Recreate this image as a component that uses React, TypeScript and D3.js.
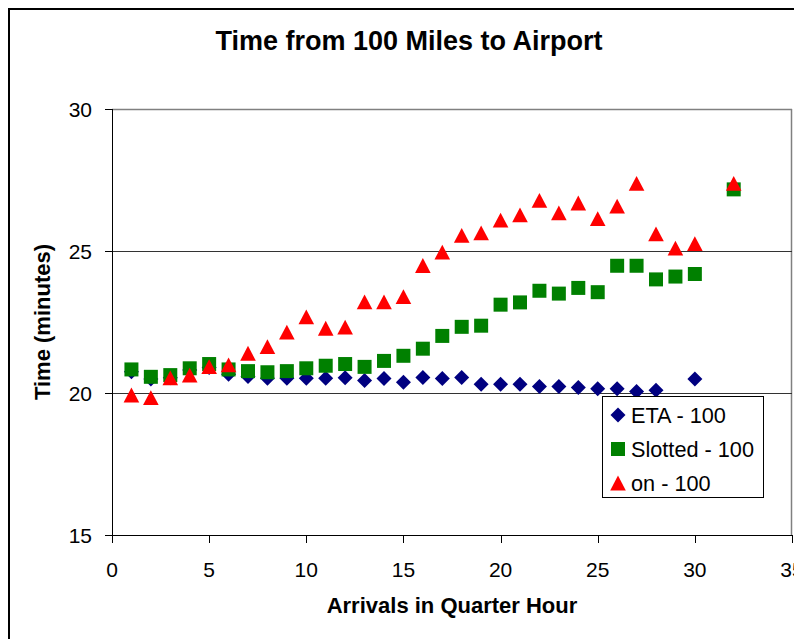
import React from "react";
import * as d3 from "d3";

const TITLE = "Time from 100 Miles to Airport";
const X_TITLE = "Arrivals in Quarter Hour";
const Y_TITLE = "Time (minutes)";
const X_TICKS = [0, 5, 10, 15, 20, 25, 30, 35];
const Y_TICKS = [15, 20, 25, 30];
const GRID_Y = [20, 25];

const etaX = [1, 2, 3, 4, 5, 6, 7, 8, 9, 10, 11, 12, 13, 14, 15, 16, 17, 18, 19, 20, 21, 22, 23, 24, 25, 26, 27, 28, 30];
const etaY = [20.75, 20.49, 20.54, 20.81, 20.9, 20.66, 20.58, 20.52, 20.52, 20.52, 20.52, 20.54, 20.44, 20.51, 20.38, 20.55, 20.51, 20.55, 20.31, 20.31, 20.31, 20.23, 20.23, 20.19, 20.15, 20.15, 20.05, 20.1, 20.49];

const slotX = [1, 2, 3, 4, 5, 6, 7, 8, 9, 10, 11, 12, 13, 14, 15, 16, 17, 18, 19, 20, 21, 22, 23, 24, 25, 26, 27, 28, 29, 30, 32];
const slotY = [20.83, 20.57, 20.63, 20.87, 21.02, 20.83, 20.77, 20.73, 20.77, 20.87, 20.96, 21.02, 20.92, 21.13, 21.31, 21.56, 22.01, 22.33, 22.37, 23.11, 23.19, 23.6, 23.5, 23.7, 23.55, 24.48, 24.48, 24.0, 24.1, 24.19, 27.17];

const onX = [1, 2, 3, 4, 5, 6, 7, 8, 9, 10, 11, 12, 13, 14, 15, 16, 17, 18, 19, 20, 21, 22, 23, 24, 25, 26, 27, 28, 29, 30, 32];
const onY = [19.93, 19.84, 20.53, 20.63, 20.93, 20.99, 21.4, 21.63, 22.14, 22.68, 22.28, 22.32, 23.21, 23.21, 23.39, 24.49, 24.96, 25.55, 25.64, 26.09, 26.27, 26.78, 26.34, 26.69, 26.14, 26.58, 27.38, 25.6, 25.1, 25.26, 27.38];

const SERIES_NAMES = ["ETA - 100", "Slotted - 100", "on - 100"];
const SERIES_COLORS = ["#000080", "#008000", "#FF0000"];
const SERIES_SHAPES = ["diamond", "square", "triangle"];

const W = 794;
const H = 631;
const FONT = "'Liberation Sans', Arial, Helvetica, sans-serif";

function markerPath(shape: string, cx: number, cy: number): string {
  const p = d3.path();
  if (shape === "diamond") {
    const r = 7.5;
    p.moveTo(cx, cy - r);
    p.lineTo(cx + r, cy);
    p.lineTo(cx, cy + r);
    p.lineTo(cx - r, cy);
    p.closePath();
  } else if (shape === "square") {
    const r = 7;
    p.rect(cx - r, cy - r, 2 * r, 2 * r);
  } else {
    const hw = 7.8;
    const hh = 7.4;
    p.moveTo(cx, cy - hh);
    p.lineTo(cx + hw, cy + hh);
    p.lineTo(cx - hw, cy + hh);
    p.closePath();
  }
  return p.toString();
}

export default function App() {
  const left = 104;
  const right = 784;
  const top = 101;
  const bottom = 527;

  const x = d3.scaleLinear().domain([0, 35]).range([left, right]);
  const y = d3.scaleLinear().domain([15, 30]).range([bottom, top]);

  const series = [
    { xs: etaX, ys: etaY },
    { xs: slotX, ys: slotY },
    { xs: onX, ys: onY },
  ];

  const legendX = 594;
  const legendY = 388;
  const legendW = 161;
  const legendH = 101;
  const rowH = 34;

  return (
    <svg width={W} height={H} style={{ display: "block", background: "#fff" }} fontFamily={FONT}>
      <rect x={0} y={0} width={W} height={H} fill="#fff" />
      <rect x={1} y={1} width={W + 20} height={H + 20} fill="none" stroke="#000" strokeWidth={2} />

      <text x={401} y={42} textAnchor="middle" fontSize={27} fontWeight="bold" fill="#000">
        {TITLE}
      </text>

      {/* plot border top/right */}
      <line x1={left} x2={right} y1={top + 0.5} y2={top + 0.5} stroke="#808080" strokeWidth={1.5} />
      <line x1={right - 0.5} x2={right - 0.5} y1={top} y2={bottom} stroke="#808080" strokeWidth={1.5} />

      {GRID_Y.map((v) => (
        <line key={v} x1={left} x2={right} y1={Math.round(y(v)) + 0.5} y2={Math.round(y(v)) + 0.5} stroke="#333" strokeWidth={1} />
      ))}

      {/* axes */}
      <line x1={left + 0.5} x2={left + 0.5} y1={top} y2={bottom + 1} stroke="#000" strokeWidth={1} />
      <line x1={left} x2={right} y1={bottom + 0.5} y2={bottom + 0.5} stroke="#000" strokeWidth={1} />

      {Y_TICKS.map((v) => (
        <g key={v}>
          <line x1={left - 7} x2={left} y1={Math.round(y(v)) + 0.5} y2={Math.round(y(v)) + 0.5} stroke="#000" />
          <text x={left - 20} y={y(v) + 7.5} textAnchor="end" fontSize={21} fill="#000">
            {v}
          </text>
        </g>
      ))}

      {X_TICKS.map((v) => (
        <g key={v}>
          <line x1={Math.round(x(v)) + 0.5} x2={Math.round(x(v)) + 0.5} y1={bottom} y2={bottom + 8} stroke="#000" />
          <text x={x(v)} y={569} textAnchor="middle" fontSize={21} fill="#000">
            {v}
          </text>
        </g>
      ))}

      <text x={(left + right) / 2} y={605} textAnchor="middle" fontSize={22} fontWeight="bold" fill="#000">
        {X_TITLE}
      </text>
      <text
        transform={`translate(42, ${(top + bottom) / 2}) rotate(-90)`}
        textAnchor="middle"
        fontSize={22}
        fontWeight="bold"
        fill="#000"
      >
        {Y_TITLE}
      </text>

      {series.map((s, si) => (
        <g key={si} fill={SERIES_COLORS[si]}>
          {s.xs.map((xv, i) => (
            <path key={i} d={markerPath(SERIES_SHAPES[si], x(xv), y(s.ys[i]))} />
          ))}
        </g>
      ))}

      <rect x={legendX + 0.5} y={legendY + 0.5} width={legendW} height={legendH} fill="#fff" stroke="#000" strokeWidth={1} />
      {SERIES_NAMES.map((name, i) => {
        const cy = legendY + 19 + i * rowH;
        return (
          <g key={name}>
            <path d={markerPath(SERIES_SHAPES[i], legendX + 16, cy)} fill={SERIES_COLORS[i]} />
            <text x={legendX + 29} y={cy + 7.5} fontSize={21.7} fill="#000">
              {name}
            </text>
          </g>
        );
      })}
    </svg>
  );
}
